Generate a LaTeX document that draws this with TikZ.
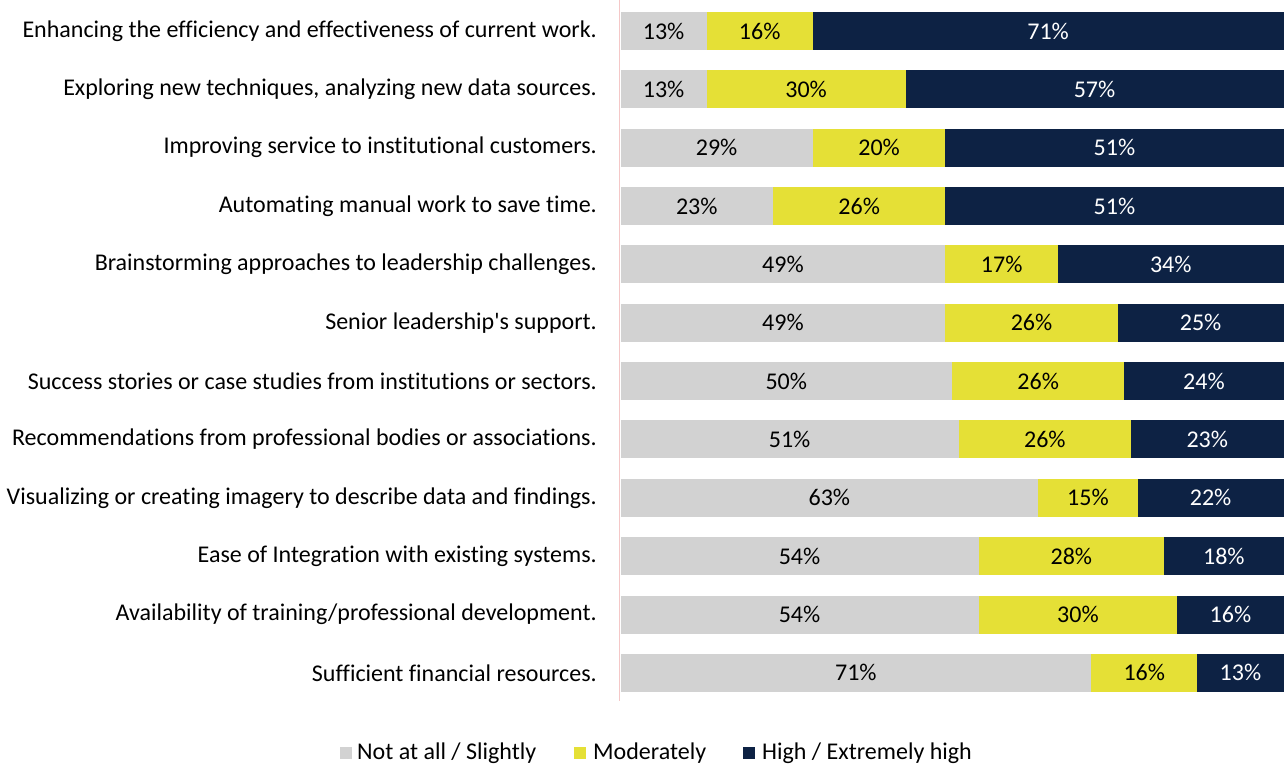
\documentclass[tikz,border=0pt]{standalone}
\usepackage{fontspec}
\setmainfont{Carlito}[Ligatures={TeXOff,NoCommon}]
\definecolor{cgrey}{HTML}{D2D2D2}
\definecolor{cyellow}{HTML}{E5E036}
\definecolor{cnavy}{HTML}{0D2244}
\definecolor{caxis}{HTML}{F5C8C8}
\begin{document}
\begin{tikzpicture}[x=1pt,y=1pt,
  seg/.style={anchor=west,minimum height=38pt,inner sep=0pt,outer sep=0pt,font=\fontsize{24}{26}\selectfont},
  sgrey/.style={seg,fill=cgrey,text=black},
  syellow/.style={seg,fill=cyellow,text=black},
  snavy/.style={seg,fill=cnavy,text=white},
  lab/.style={anchor=east,inner sep=0pt,font=\fontsize{24}{26}\selectfont},
  legbox/.style={minimum size=12pt,inner sep=0pt,anchor=west},
  legtext/.style={anchor=west,inner sep=0pt,font=\fontsize{24}{26}\selectfont}]
\useasboundingbox (0,0) rectangle (1285,-767);
\fill[white] (0,0) rectangle (1285,-767);
\coordinate (axtop) at (619.5,0);
\coordinate (axbot) at (619.5,-701);
\draw[caxis,line width=1.2pt] (axtop) -- (axbot);
\foreach \i/\t/\a/\b/\c in {
 1/{Enhancing the efficiency and effectiveness of current work.}/13/16/71,
 2/{Exploring new techniques, analyzing new data sources.}/13/30/57,
 3/{Improving service to institutional customers.}/29/20/51,
 4/{Automating manual work to save time.}/23/26/51,
 5/{Brainstorming approaches to leadership challenges.}/49/17/34,
 6/{Senior leadership's support.}/49/26/25,
 7/{Success stories or case studies from institutions or sectors.}/50/26/24,
 8/{Recommendations from professional bodies or associations.}/51/26/23,
 9/{Visualizing or creating imagery to describe data and findings.}/63/15/22,
 10/{Ease of Integration with existing systems.}/54/28/18,
 11/{Availability of training/professional development.}/54/30/16,
 12/{Sufficient financial resources.}/71/16/13}{
  \pgfmathsetmacro{\yy}{-31-(\i-1)*58.35}
  \node[lab] (l\i) at (597,\yy) {\t};
  \node[sgrey,minimum width=\a*6.63pt] (g\i) at (620.5,\yy) {\a\%};
  \node[syellow,minimum width=\b*6.63pt] (y\i) at (g\i.east) {\b\%};
  \node[snavy,minimum width=\c*6.63pt] (n\i) at (y\i.east) {\c\%};
}
\node[legbox,fill=cgrey] (k1) at (340,-753) {};
\node[legtext] (t1) at (357,-753) {Not at all / Slightly};
\node[legbox,fill=cyellow] (k2) at (574,-753) {};
\node[legtext] (t2) at (593,-753) {Moderately};
\node[legbox,fill=cnavy] (k3) at (743,-753) {};
\node[legtext] (t3) at (762,-753) {High / Extremely high};
\end{tikzpicture}
\end{document}
